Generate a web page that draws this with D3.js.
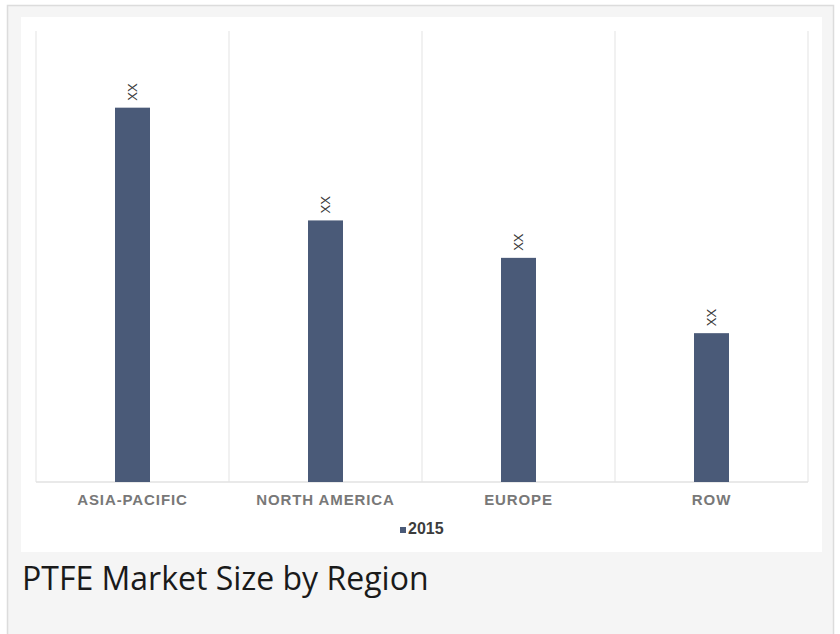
<!DOCTYPE html>
<html>
<head>
<meta charset="utf-8">
<script src="https://cdn.jsdelivr.net/npm/d3@7"></script>
<style>
  html, body { margin: 0; padding: 0; background: #ffffff; }
  svg { display: block; }
</style>
</head>
<body>
<svg id="chart" width="840" height="634"></svg>
<script>
const categories = ["ASIA-PACIFIC", "NORTH AMERICA", "EUROPE", "ROW"];
const values2015 = [83, 58, 49.7, 33];
const barLabels = ["XX", "XX", "XX", "XX"];
const seriesName = "2015";
const caption = "PTFE Market Size by Region";

const svg = d3.select("#chart");

// frame and panel
svg.append("rect").attr("x", 7.5).attr("y", 5.5).attr("width", 826).attr("height", 640)
  .attr("fill", "#f5f5f5").attr("stroke", "#dcdcdc").attr("stroke-width", 1.5);
svg.append("rect").attr("x", 21).attr("y", 17).attr("width", 801).attr("height", 535)
  .attr("fill", "#ffffff");

const plot = { left: 36, right: 808, top: 31, bottom: 482 };

const x = d3.scaleBand().domain(categories).range([plot.left, plot.right]).paddingInner(0).paddingOuter(0);
const y = d3.scaleLinear().domain([0, 100]).range([plot.bottom, plot.top]);

// vertical gridlines at band boundaries
const bounds = categories.map(c => x(c)).concat([plot.right]);
svg.append("g").selectAll("line").data(bounds).join("line")
  .attr("x1", d => d).attr("x2", d => d)
  .attr("y1", plot.top).attr("y2", plot.bottom)
  .attr("stroke", "#ececec").attr("stroke-width", 1.5);

// baseline
svg.append("line").attr("x1", plot.left).attr("x2", plot.right)
  .attr("y1", plot.bottom).attr("y2", plot.bottom)
  .attr("stroke", "#e2e2e2").attr("stroke-width", 1.5);

const barW = 35;
svg.append("g").selectAll("rect").data(values2015).join("rect")
  .attr("x", (d, i) => x(categories[i]) + x.bandwidth() / 2 - barW / 2)
  .attr("y", d => y(d))
  .attr("width", barW)
  .attr("height", d => plot.bottom - y(d))
  .attr("fill", "#4a5a78");

// bar value labels (rotated)
svg.append("g").selectAll("text").data(values2015).join("text")
  .attr("transform", (d, i) => `translate(${x(categories[i]) + x.bandwidth() / 2 + 4},${y(d) - 7}) rotate(-90)`)
  .attr("text-anchor", "start")
  .attr("font-family", "Liberation Sans, Arial, sans-serif")
  .attr("font-size", 13)
  .attr("fill", "#3a3a3a")
  .text((d, i) => barLabels[i]);

// x axis labels
const xAxis = d3.axisBottom(x).tickSize(0).tickPadding(0);
const gx = svg.append("g").attr("transform", `translate(0,${plot.bottom})`).call(xAxis);
gx.select(".domain").remove();
gx.selectAll("text")
  .attr("y", 23)
  .attr("dy", 0)
  .attr("font-family", "Liberation Sans, Arial, sans-serif")
  .attr("font-size", 15)
  .attr("font-weight", "bold")
  .attr("letter-spacing", "0.9px")
  .attr("fill", "#787878");

// legend
svg.append("rect").attr("x", 400).attr("y", 527).attr("width", 6).attr("height", 6).attr("fill", "#4a5a78");
svg.append("text").attr("x", 408).attr("y", 534)
  .attr("font-family", "Liberation Sans, Arial, sans-serif")
  .attr("font-size", 16).attr("font-weight", "bold")
  .attr("fill", "#3c3c3c").text(seriesName);

// caption
svg.append("text").attr("x", 22).attr("y", 590)
  .attr("font-family", "Open Sans, sans-serif")
  .attr("font-size", 32)
  .attr("fill", "#1a1a1a")
  .text(caption);
</script>
</body>
</html>
